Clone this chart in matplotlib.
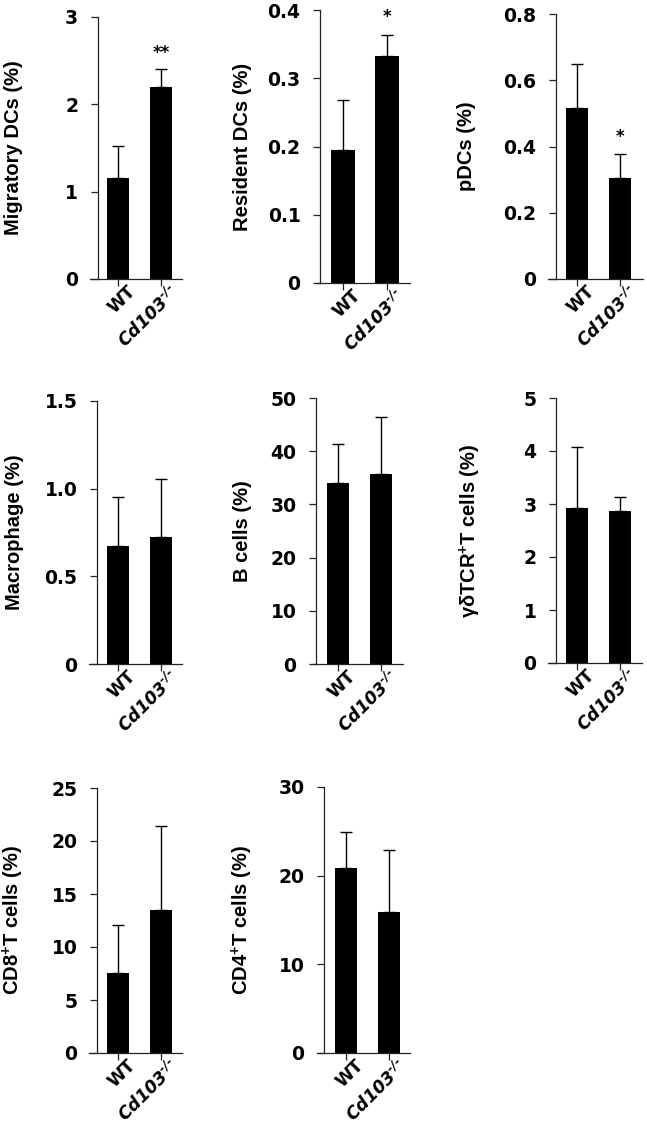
import matplotlib
matplotlib.use("Agg")
import matplotlib.pyplot as plt
from matplotlib.transforms import ScaledTranslation

plt.rcParams['mathtext.default'] = 'regular'

W, H = 647, 1128

groups = ['WT', 'Cd103$^{\u2010/\u2010}$']
ylabels = ['Migratory DCs (%)', 'Resident DCs (%)', 'pDCs (%)',
           'Macrophage (%)', 'B cells (%)', 'γδTCR$^{+}$T cells (%)',
           'CD8$^{+}$T cells (%)', 'CD4$^{+}$T cells (%)']
wt_mean = [1.16, 0.195, 0.516, 0.675, 34.1, 2.93, 7.55, 20.9]
wt_err = [0.36, 0.073, 0.133, 0.277, 7.2, 1.14, 4.55, 4.06]
ko_mean = [2.20, 0.333, 0.304, 0.722, 35.8, 2.87, 13.5, 15.86]
ko_err = [0.20, 0.031, 0.073, 0.335, 10.6, 0.27, 7.9, 7.04]
stars = ['**', '*', '*', '', '', '', '', '']
ymax = [3, 0.4, 0.8, 1.5, 50, 5, 25, 30]
yticks = [[0, 1, 2, 3],
          [0, 0.1, 0.2, 0.3, 0.4],
          [0, 0.2, 0.4, 0.6, 0.8],
          [0, 0.5, 1.0, 1.5],
          [0, 10, 20, 30, 40, 50],
          [0, 1, 2, 3, 4, 5],
          [0, 5, 10, 15, 20, 25],
          [0, 10, 20, 30]]
ytick_labels = [['0', '1', '2', '3'],
                ['0', '0.1', '0.2', '0.3', '0.4'],
                ['0', '0.2', '0.4', '0.6', '0.8'],
                ['0', '0.5', '1.0', '1.5'],
                ['0', '10', '20', '30', '40', '50'],
                ['0', '1', '2', '3', '4', '5'],
                ['0', '5', '10', '15', '20', '25'],
                ['0', '10', '20', '30']]

# pixel layout of each panel: x-axis left, y-axis x, x-axis right,
# first/second tick x, top tick y, zero y, y-label centre x
layout = [
    (90, 97.7, 182, 118, 161, 17, 279, 14),
    (317, 320, 410, 343, 387, 10, 283, 243),
    (548, 556, 643, 577, 620, 14, 279, 467),
    (89, 97, 182, 118, 161, 401, 664, 15),
    (313, 316, 403, 338, 381, 398, 664, 242),
    (548, 556, 642, 577, 620, 398, 663, 470),
    (89, 97, 182, 118, 161, 788, 1053, 13),
    (317, 324, 410, 346, 389, 787, 1053, 242),
]

fig = plt.figure(figsize=(W / 100, H / 100), dpi=100)
spine_col = '#222222'

for i in range(len(ylabels)):
    xl, yax, xr, t0, t1, ytop, y0, lx = layout[i]
    sp = t1 - t0
    ax = fig.add_axes([xl / W, 1 - y0 / H, (xr - xl) / W, (y0 - ytop) / H])
    ax.set_xlim((xl - t0) / sp, (xr - t0) / sp)
    ax.set_ylim(0, ymax[i])

    ax.bar([0, 1], [wt_mean[i], ko_mean[i]], width=0.53, color='black', zorder=2)
    ax.errorbar([0, 1], [wt_mean[i], ko_mean[i]],
                yerr=[[0, 0], [wt_err[i], ko_err[i]]],
                fmt='none', ecolor='black', elinewidth=1.0, capsize=4.5,
                capthick=1.0, zorder=1)
    if stars[i]:
        ax.text(1, ko_mean[i] + ko_err[i] + ymax[i] * 0.03, stars[i],
                ha='center', va='bottom', fontsize=12, fontweight='bold',
                family='DejaVu Sans')

    for s in ['top', 'right']:
        ax.spines[s].set_visible(False)
    ax.spines['left'].set_position(('data', (yax - t0) / sp))
    for s in ['left', 'bottom']:
        ax.spines[s].set_linewidth(0.9)
        ax.spines[s].set_color(spine_col)
    ax.tick_params(axis='both', length=5, width=0.9, color=spine_col)
    ax.tick_params(axis='y', pad=9)
    ax.tick_params(axis='x', pad=1)

    ax.set_yticks(yticks[i])
    ax.set_yticklabels(ytick_labels[i], fontsize=13.5, fontweight='bold',
                       family='DejaVu Sans')
    ax.set_xticks([0, 1])
    ax.set_xticklabels(groups, rotation=45, ha='right', va='top',
                       rotation_mode='anchor', fontsize=12.5,
                       fontweight='bold', family='DejaVu Sans')
    tls = ax.get_xticklabels()
    tls[1].set_fontstyle('italic')
    off = ScaledTranslation(6 / 72, 3.5 / 72, fig.dpi_scale_trans)
    for t in tls:
        t.set_transform(t.get_transform() + off)

    fig.text(lx / W, 1 - (ytop + y0) / 2 / H, ylabels[i], rotation=90,
             ha='center', va='center', fontsize=14.5, fontweight='bold',
             family='Liberation Sans')

fig.savefig('out.png', dpi=100)
